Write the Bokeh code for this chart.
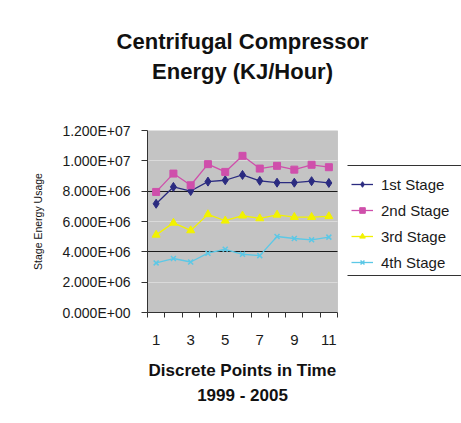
from bokeh.plotting import figure
from bokeh.models import (ColumnDataSource, FixedTicker, Grid, Legend, LegendItem,
                          BoxAnnotation, Range1d, Title)
from bokeh.embed import file_html
from bokeh.resources import INLINE

# ---- data ----
points = [1, 2, 3, 4, 5, 6, 7, 8, 9, 10, 11]
stage1 = [7.17e6, 8.28e6, 8.01e6, 8.63e6, 8.72e6, 9.07e6, 8.68e6, 8.56e6, 8.56e6, 8.66e6, 8.54e6]
stage2 = [7.95e6, 9.16e6, 8.39e6, 9.78e6, 9.27e6, 10.33e6, 9.49e6, 9.67e6, 9.42e6, 9.74e6, 9.58e6]
stage3 = [5.12e6, 5.91e6, 5.41e6, 6.47e6, 6.05e6, 6.38e6, 6.20e6, 6.44e6, 6.29e6, 6.29e6, 6.34e6]
stage4 = [3.27e6, 3.56e6, 3.33e6, 3.91e6, 4.17e6, 3.84e6, 3.75e6, 5.01e6, 4.88e6, 4.79e6, 4.97e6]
series_names = ["1st Stage", "2nd Stage", "3rd Stage", "4th Stage"]
x_tick_values = [1, 3, 5, 7, 9, 11]
y_tick_values = [0, 2e6, 4e6, 6e6, 8e6, 1e7, 1.2e7]
y_tick_labels = ["0.000E+00", "2.000E+06", "4.000E+06", "6.000E+06",
                 "8.000E+06", "1.000E+07", "1.200E+07"]
title_lines = ["Centrifugal Compressor", "Energy (KJ/Hour)"]
x_title_lines = ["Discrete Points in Time", "1999 - 2005"]
y_title = "Stage Energy Usage"

FONT = "Liberation Sans"

# advance widths (em/1000) of Liberation Sans Bold, used to centre titles
BOLD_W = {" ": 278, "(": 333, ")": 333, "/": 278, "-": 333, "C": 722, "E": 667,
          "H": 722, "J": 556, "K": 722, "D": 722, "P": 667, "T": 611, "a": 556,
          "c": 556, "d": 611, "e": 556, "f": 333, "g": 611, "i": 278, "l": 278,
          "m": 889, "n": 611, "o": 611, "p": 611, "r": 389, "s": 556, "t": 333,
          "u": 611, "y": 556}
def bold_width(text, size):
    return sum(BOLD_W.get(ch, 556) for ch in text) * size / 1000.0

# ---- geometry (pixels) ----
W, H = 461, 423
LEFT, TOP, BOTTOM = 147, 130, 111
PLOT_W = 190                      # width of the grey plot area
FRAME_W = W - LEFT                # frame extends to the right edge (legend lives there)
FRAME_H = H - TOP - BOTTOM
x0, x1 = 0.5, len(points) + 0.5
x_end = x0 + (x1 - x0) * FRAME_W / PLOT_W
y0, y1 = y_tick_values[0], y_tick_values[-1]
px_y = (y1 - y0) / FRAME_H        # data units per pixel

p = figure(width=W, height=H, output_backend="svg", toolbar_location=None,
           x_range=Range1d(x0, x_end), y_range=Range1d(y0, y1),
           min_border_left=LEFT, min_border_right=0, min_border_top=TOP,
           min_border_bottom=BOTTOM)
p.background_fill_color = "white"
p.border_fill_color = "white"
p.outline_line_color = None

# grey plot area
p.add_layout(BoxAnnotation(left=x0, right=x1, bottom=y0, top=y1,
                           fill_color="#c4c4c4", fill_alpha=1,
                           line_color="#8a8a8a", line_width=1, level="image"))

# grid lines limited to the plot area
p.xgrid.visible = False
p.ygrid.visible = False
for ticks, col in [([2e6, 6e6, 1e7], "#dadada"), ([4e6, 8e6], "#1a1a1a")]:
    g = Grid(dimension=1, ticker=FixedTicker(ticks=ticks),
             grid_line_color=col, grid_line_width=1)
    if "cross_bounds" in g.properties():
        g.cross_bounds = (x0, x1)
        p.add_layout(g)
    else:
        p.segment(x0=[x0] * len(ticks), x1=[x1] * len(ticks), y0=ticks, y1=ticks,
                  line_color=col, line_width=1)

# y axis
p.yaxis.ticker = FixedTicker(ticks=y_tick_values)
p.yaxis.major_label_overrides = {v: s for v, s in zip(y_tick_values, y_tick_labels)}
p.yaxis.major_label_text_font = FONT
p.yaxis.major_label_text_font_size = "14px"
p.yaxis.major_label_text_color = "#1a1a1a"
p.yaxis.major_tick_in = 0
p.yaxis.major_tick_out = 6
p.yaxis.minor_tick_line_color = None
p.yaxis.axis_line_color = "#333333"
p.yaxis.major_tick_line_color = "#333333"
p.yaxis.major_label_standoff = 11
p.yaxis.axis_label = y_title
p.yaxis.axis_label_text_font = FONT
p.yaxis.axis_label_text_font_size = "10.5px"
p.yaxis.axis_label_text_font_style = "normal"
p.yaxis.axis_label_text_color = "#111111"
p.yaxis.axis_label_standoff = 15

# x axis (limited to plot area)
p.xaxis.bounds = (x0, x1)
p.xaxis.ticker = FixedTicker(ticks=x_tick_values,
                             minor_ticks=[x0 + i for i in range(len(points) + 1)])
p.xaxis.major_label_text_font = FONT
p.xaxis.major_label_text_font_size = "15px"
p.xaxis.major_label_text_color = "#1a1a1a"
p.xaxis.major_tick_in = 0
p.xaxis.major_tick_out = 0
p.xaxis.minor_tick_in = 0
p.xaxis.minor_tick_out = 5
p.xaxis.minor_tick_line_color = "#333333"
p.xaxis.axis_line_color = "#333333"
p.xaxis.major_label_standoff = 17

# blank spacers (pad the side panels) and titles centred over the grey plot area
def add_spacer(side, gap):
    p.add_layout(Title(text=" ", text_font_size="1px", standoff=gap), side)

def add_title(text, size, side, standoff):
    off = PLOT_W / 2 - bold_width(text, size) / 2
    p.add_layout(Title(text=text, align="left", offset=off, text_font=FONT,
                       text_font_size=f"{size}px", text_font_style="bold",
                       text_color="#111111", standoff=standoff), side)

add_spacer("above", 43)
add_title(title_lines[1], 22, "above", 1)
add_title(title_lines[0], 22, "above", 5)
add_spacer("below", 6)
add_title(x_title_lines[0], 17, "below", 4)
add_title(x_title_lines[1], 17, "below", 4)

colors = ["#2b2b80", "#cf4fab", "#f2f200", "#5cc8e6"]
src = ColumnDataSource(dict(x=points, s1=stage1, s2=stage2, s3=stage3, s4=stage4))

r1l = p.line("x", "s1", source=src, color=colors[0], line_width=1.3)
r1m = p.scatter("x", "s1", source=src, marker="diamond", size=9, color=colors[0])
r2l = p.line("x", "s2", source=src, color=colors[1], line_width=1.3)
r2m = p.scatter("x", "s2", source=src, marker="square", size=7, color=colors[1])
r3l = p.line("x", "s3", source=src, color=colors[2], line_width=1.3)
r3m = p.scatter("x", "s3", source=src, marker="triangle", size=8, color=colors[2])
r4l = p.line("x", "s4", source=src, color=colors[3], line_width=1.3)
r4m = p.scatter("x", "s4", source=src, marker="x", size=7, color=colors[3], line_width=1.5)

legend = Legend(items=[
    LegendItem(label=series_names[0], renderers=[r1l, r1m]),
    LegendItem(label=series_names[1], renderers=[r2l, r2m]),
    LegendItem(label=series_names[2], renderers=[r3l, r3m]),
    LegendItem(label=series_names[3], renderers=[r4l, r4m]),
], location=(204, 40))
legend.label_text_font = FONT
legend.label_text_font_size = "15px"
legend.label_text_color = "#1a1a1a"
legend.glyph_width = 22
legend.glyph_height = 14
legend.label_height = 20
legend.label_standoff = 8
legend.spacing = 6
legend.padding = 6
legend.margin = 0
legend.border_line_color = None
legend.background_fill_alpha = 0
p.add_layout(legend, "center")

# legend top / bottom rules (pixel offsets from the frame)
leg_left = x0 + (x1 - x0) * 200 / PLOT_W
for off in (147, 37):            # pixels above frame bottom
    yc = y0 + off * px_y
    p.add_layout(BoxAnnotation(left=leg_left, right=x_end,
                               bottom=yc - 0.5 * px_y, top=yc + 0.5 * px_y,
                               fill_color="#333333", fill_alpha=1, line_color=None))

open("out.html", "w").write(file_html(p, INLINE))
